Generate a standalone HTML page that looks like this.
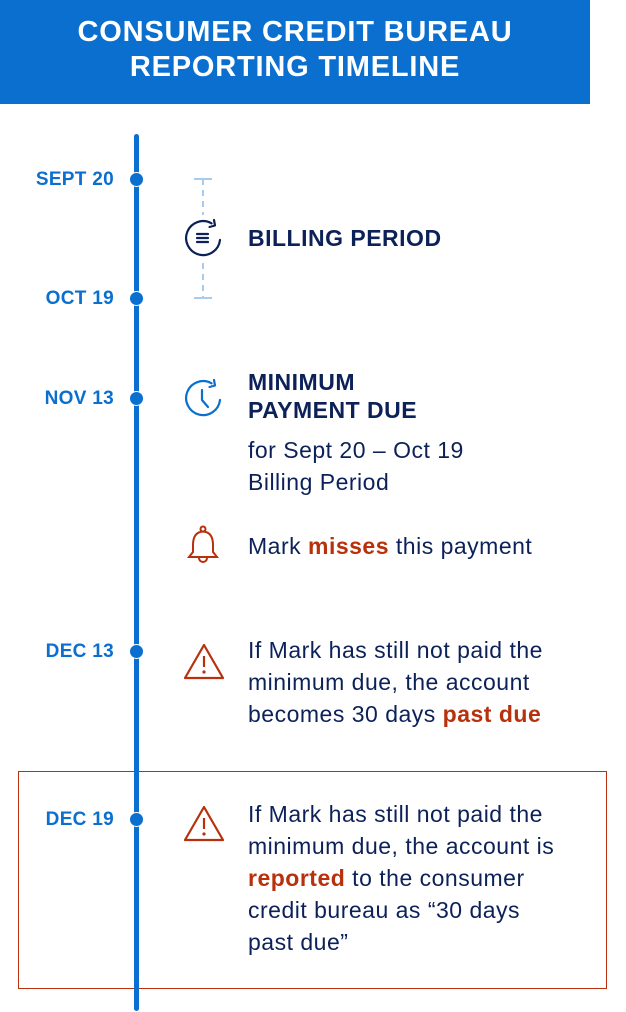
<!DOCTYPE html>
<html><head><meta charset="utf-8"><style>
body{margin:0;width:626px;height:1012px;background:#fff;position:relative;overflow:hidden;font-family:"Liberation Sans",Arial,sans-serif}
.hd{position:absolute;left:0;top:0;width:590px;height:104px;background:#0a6fcf;color:#fff;font-weight:bold;font-size:29px;letter-spacing:0.8px;line-height:35px;text-align:center;padding-top:15px;box-sizing:border-box}
.line{position:absolute;left:134px;top:134px;width:5px;height:877px;background:#0a6fcf;border-radius:3px}
.dot{position:absolute;left:129px;width:15px;height:15px;border-radius:50%;background:#0a6fcf;border:1px solid #fff;box-sizing:border-box}
.dt{position:absolute;right:512px;color:#0a6fcf;font-weight:bold;font-size:19px;letter-spacing:0.3px;white-space:nowrap}
.t{position:absolute;left:248px;color:#0c2158;font-size:23px;letter-spacing:0.5px;line-height:32px;white-space:nowrap}
.b{font-weight:bold}
.r{color:#b8310c;font-weight:bold}
svg{position:absolute}
.box{position:absolute;left:18px;top:771px;width:589px;height:218px;border:1.5px solid #b8310c;box-sizing:border-box}
</style></head><body>
<div class="hd">CONSUMER CREDIT BUREAU<br>REPORTING TIMELINE</div>
<div class="box"></div>
<div class="line"></div>
<div class="dot" style="top:172px"></div>
<div class="dot" style="top:291px"></div>
<div class="dot" style="top:391px"></div>
<div class="dot" style="top:644px"></div>
<div class="dot" style="top:812px"></div>
<div class="dt" style="top:169px">SEPT 20</div>
<div class="dt" style="top:288px">OCT 19</div>
<div class="dt" style="top:388px">NOV 13</div>
<div class="dt" style="top:641px">DEC 13</div>
<div class="dt" style="top:809px">DEC 19</div>
<svg style="left:185px;top:175px" width="36" height="130">
<g stroke="#a9cbec" stroke-width="2" fill="none">
<line x1="9" y1="4" x2="27" y2="4"/><line x1="18" y1="4" x2="18" y2="40" stroke-dasharray="6 5"/>
<line x1="18" y1="88" x2="18" y2="123" stroke-dasharray="6 5"/><line x1="9" y1="123" x2="27" y2="123"/></g>
</svg>
<svg style="left:183px;top:218px" width="42" height="42"><g stroke="#0c2158" stroke-width="2.2" fill="none" stroke-linecap="round" stroke-linejoin="round">
<path d="M37 22 A17 17 0 1 1 28.5 5.3"/><path d="M26.5 9 L32 7.5 L31 2"/>
<line x1="14" y1="16" x2="25" y2="16"/><line x1="14" y1="20" x2="25" y2="20"/><line x1="14" y1="24" x2="25" y2="24"/></g></svg>
<div class="t b" style="top:222px">BILLING PERIOD</div>
<svg style="left:183px;top:378px" width="42" height="42"><g stroke="#0a6fcf" stroke-width="2.2" fill="none" stroke-linecap="round" stroke-linejoin="round"><path d="M37 22 A17 17 0 1 1 28.5 5.3"/><path d="M26.5 9 L32 7.5 L31 2"/><path d="M19 12 V22 L25 29"/></g></svg>
<div class="t b" style="top:368px;line-height:28px">MINIMUM<br>PAYMENT DUE</div>
<div class="t" style="top:434px">for Sept 20 – Oct 19<br>Billing Period</div>
<svg style="left:185px;top:525px" width="36" height="42"><g stroke="#b8310c" stroke-width="2" fill="none"><circle cx="18" cy="4" r="2.5"/><path d="M18 6.5 C10 7 8 13 8 20 V27 L4 32 H32 L28 27 V20 C28 13 26 7 18 6.5Z"/><path d="M14 33 A4 4 0 0 0 22 33"/></g></svg>
<div class="t" style="top:530px">Mark <span class="r">misses</span> this payment</div>
<svg style="left:182px;top:642px" width="44" height="40"><g stroke="#b8310c" stroke-width="2.2" fill="none" stroke-linejoin="round"><path d="M22 3 L41 36 H3 Z"/><line x1="22" y1="14" x2="22" y2="25"/></g><circle cx="22" cy="30" r="1.6" fill="#b8310c"/></svg>
<div class="t" style="top:634px">If Mark has still not paid the<br>minimum due, the account<br>becomes 30 days <span class="r">past due</span></div>
<svg style="left:182px;top:804px" width="44" height="40"><g stroke="#b8310c" stroke-width="2.2" fill="none" stroke-linejoin="round"><path d="M22 3 L41 36 H3 Z"/><line x1="22" y1="14" x2="22" y2="25"/></g><circle cx="22" cy="30" r="1.6" fill="#b8310c"/></svg>
<div class="t" style="top:798px">If Mark has still not paid the<br>minimum due, the account is<br><span class="r">reported</span> to the consumer<br>credit bureau as “30 days<br>past due”</div>
</body></html>
